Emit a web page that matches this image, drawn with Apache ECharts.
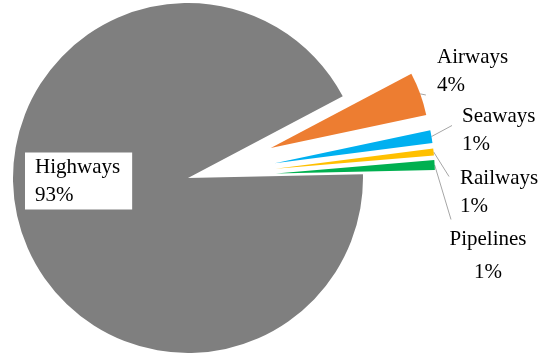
<!DOCTYPE html>
<html><head><meta charset="utf-8">
<script src="https://cdn.jsdelivr.net/npm/echarts@6/dist/echarts.min.js"></script>
<style>html,body{margin:0;padding:0;background:#fff}#c{width:544px;height:355px}</style>
</head><body><div id="c"></div>
<script>
const categories = ['Highways', 'Airways', 'Seaways', 'Railways', 'Pipelines'];
const shares = [92.6, 4.4, 1.3, 0.7, 1.0];
const colors = ['#7f7f7f', '#ed7d31', '#00b0f0', '#ffc000', '#00b050'];
const exploded = [false, true, true, true, true];

// ---- layout / style config (not data) ----
const CENTER = [188, 178];
const START = 1.2;          // degrees
const EXPLODE = 88;         // px
const labelPos = {          // text block anchor (x, middle y)
  Highways: { x: 25, y: 181, align: 'left' },
  Airways: { x: 437, y: 71, align: 'left' },
  Seaways: { x: 462, y: 130, align: 'left' },
  Railways: { x: 460, y: 192, align: 'left' },
  Pipelines: { x: 488, y: 256, align: 'center' }
};
const leaderEnd = {         // where each leader line ends
  Airways: [426, 95], Seaways: [452, 125], Railways: [449, 177], Pipelines: [451, 220]
};
const FONT = "'Liberation Serif', 'Times New Roman', serif";
const fmt = p => p.name + '\n' + Math.round(p.value) + '%';

// explode shift of each slice (label coordinates of selected slices are relative to it)
const total = shares.reduce((a, b) => a + b, 0);
const shift = [];
{
  let acc = START;
  shares.forEach(v => {
    const span = v / total * 360;
    const mid = (acc - span / 2) * Math.PI / 180;
    shift.push([EXPLODE * Math.cos(mid), -EXPLODE * Math.sin(mid)]);
    acc -= span;
  });
}

const chart = echarts.init(document.getElementById('c'), null, { renderer: 'canvas' });
chart.setOption({
  animation: false,
  series: [
    {
      // base pie: Highways slice + all text labels
      type: 'pie', center: CENTER, radius: 175, startAngle: START, clockwise: true,
      avoidLabelOverlap: false, silent: true,
      itemStyle: { borderWidth: 0 },
      label: {
        position: 'inside', formatter: fmt, fontFamily: FONT, fontSize: 21, color: '#000',
        lineHeight: 28, align: 'left'
      },
      labelLine: { show: false },
      labelLayout: p => {
        const lp = labelPos[categories[p.dataIndex]];
        return { x: lp.x, y: lp.y, align: lp.align, verticalAlign: 'middle' };
      },
      data: categories.map((n, i) => ({
        name: n, value: shares[i],
        itemStyle: { color: exploded[i] ? 'rgba(0,0,0,0)' : colors[i] },
        label: n === 'Highways'
          ? { backgroundColor: '#fff', padding: [1, 12, 0, 10] }
          : (n === 'Pipelines' ? { lineHeight: 33, align: 'center' } : {})
      }))
    },
    {
      // exploded small slices + leader lines
      type: 'pie', center: CENTER, radius: 159, startAngle: START, clockwise: true,
      avoidLabelOverlap: false, selectedMode: 'multiple', selectedOffset: EXPLODE, silent: true,
      itemStyle: { borderWidth: 0 },
      label: {
        position: 'outside', formatter: () => ' ', fontSize: 1, color: 'rgba(0,0,0,0)'
      },
      labelLine: { show: true, length: 5, length2: 0, lineStyle: { color: '#a6a6a6', width: 1 } },
      labelLayout: p => {
        const n = categories[p.dataIndex];
        const e = leaderEnd[n];
        if (!e) return {};
        const s = shift[p.dataIndex];
        return { x: e[0] - s[0], y: e[1] - s[1], align: 'center', verticalAlign: 'middle' };
      },
      data: categories.map((n, i) => ({
        name: n, value: shares[i], selected: exploded[i],
        itemStyle: { color: exploded[i] ? colors[i] : 'rgba(0,0,0,0)' },
        label: { show: exploded[i] },
        labelLine: { show: exploded[i] }
      }))
    }
  ]
});
</script></body></html>
